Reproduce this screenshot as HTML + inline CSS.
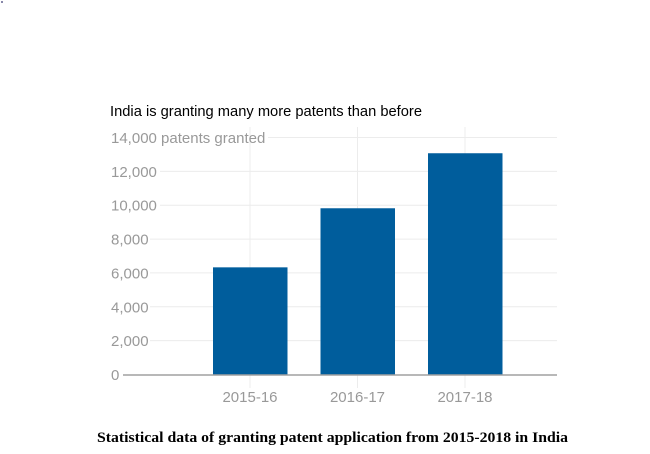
<!DOCTYPE html>
<html><head><meta charset="utf-8"><style>
body{margin:0;background:#fff;width:650px;height:454px;overflow:hidden}
svg{display:block}
</style></head><body>
<svg width="650" height="454" id="chart">
<rect x="1" y="1" width="2" height="2" fill="#88a"/>
<text x="110" y="116" font-family="Liberation Sans, sans-serif" font-size="15" fill="#000" textLength="312" lengthAdjust="spacingAndGlyphs">India is granting many more patents than before</text>
<text x="97" y="442" font-family="Liberation Serif, serif" font-weight="bold" font-size="15" fill="#000" textLength="471" lengthAdjust="spacingAndGlyphs">Statistical data of granting patent application from  2015-2018 in India</text>
<g id="grid"></g><g id="bars"></g><g id="labels"></g>
</svg>
<script>
const categories=["2015-16","2016-17","2017-18"];
const values=[6330,9820,13070];
const yTicks=[0,2000,4000,6000,8000,10000,12000,14000];
const yTickLabels=["0","2,000","4,000","6,000","8,000","10,000","12,000","14,000 patents granted"];
const NS="http://www.w3.org/2000/svg";
const y=v=>374.5-v/14000*237;
const x=i=>250+i*107.5;
function mk(tag,attrs,parent){const e=document.createElementNS(NS,tag);for(const k in attrs)e.setAttribute(k,attrs[k]);document.getElementById(parent).appendChild(e);return e;}
categories.forEach((c,i)=>{
  const l=mk('line',{x1:x(i),x2:x(i),y1:127,y2:388,stroke:'#ececec','stroke-width':1},'grid');
  
  
});
yTicks.forEach((t,i)=>{
  if(i>0){const l=mk('line',{x1:i==7?268:(t>=10000?160:150),x2:557,y1:y(t),y2:y(t),stroke:'#ececec','stroke-width':1},'grid');
  
  }
  const tx=mk('text',{x:111,y:y(t)+5.5,'font-family':'Liberation Sans, sans-serif','font-size':15,fill:'#999'},'labels');
  tx.textContent=yTickLabels[i];
  
  
});
values.forEach((v,i)=>{
  const r=mk('rect',{x:x(i)-37,y:y(v),width:74.5,height:y(0)-y(v),fill:'#005d9c'},'bars');
  
  
  const tx=mk('text',{x:x(i),y:402,'text-anchor':'middle','font-family':'Liberation Sans, sans-serif','font-size':15,fill:'#999'},'labels');
  tx.textContent=categories[i];
  
  
});
const ax=mk('line',{x1:123,x2:557,y1:y(0)+0.5,y2:y(0)+0.5,stroke:'#a0a0a0','stroke-width':1.5},'bars');


</script>
</body></html>
